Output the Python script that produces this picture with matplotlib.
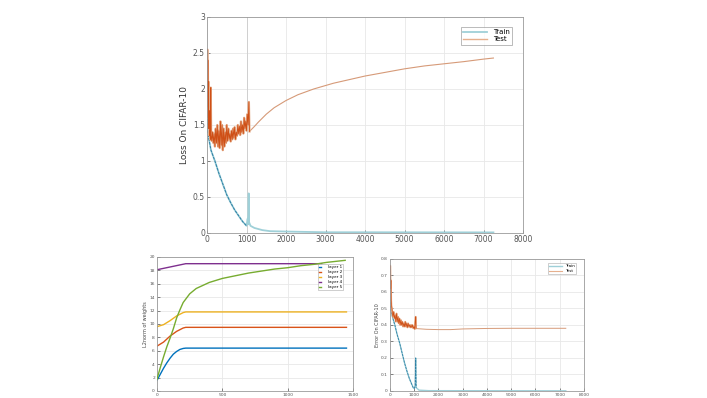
import matplotlib
matplotlib.use("Agg")
import matplotlib.pyplot as plt

# ---------------- data: top plot (loss) ----------------
test_loss_x = [0, 8, 15, 22, 30, 38, 45, 55, 65, 75, 85, 95, 105, 120, 140, 160, 180, 200,
               220, 240, 260, 280, 300, 320, 340, 360, 380, 400, 420, 440, 460, 480, 500,
               520, 540, 560, 580, 600, 620, 640, 660, 680, 700, 720, 740, 760, 780, 800,
               820, 840, 860, 880, 900, 920, 940, 960, 980, 1000, 1020, 1040, 1060, 1075,
               1200, 1300, 1500, 1700, 2000, 2300, 2700, 3200, 3600, 4000, 4500, 5000,
               5500, 6000, 6500, 7000, 7250]
test_loss_y = [1.75, 2.55, 1.9, 2.4, 1.6, 2.1, 1.45, 1.7, 1.35, 1.42, 1.3, 2.02, 1.35, 1.28,
               1.4, 1.25, 1.38, 1.2, 1.45, 1.25, 1.5, 1.2, 1.42, 1.18, 1.55, 1.22, 1.5, 1.15,
               1.45, 1.2, 1.4, 1.25, 1.5, 1.28, 1.45, 1.3, 1.38, 1.27, 1.42, 1.3, 1.45, 1.32,
               1.47, 1.3, 1.4, 1.35, 1.5, 1.38, 1.48, 1.36, 1.55, 1.4, 1.5, 1.38, 1.6, 1.45,
               1.55, 1.42, 1.65, 1.5, 1.82, 1.41,
               1.48, 1.54, 1.65, 1.74, 1.84, 1.92, 2.0, 2.08, 2.13, 2.18, 2.23, 2.28,
               2.32, 2.35, 2.38, 2.415, 2.43]
train_loss_x = [0, 20, 50, 100, 200, 300, 400, 500, 600, 700, 800, 900, 950, 1000, 1030,
                1040, 1055, 1065, 1100, 1200, 1400, 1600, 2000, 2500, 3000, 4000, 7250]
train_loss_y = [1.75, 1.4, 1.3, 1.15, 1.0, 0.83, 0.68, 0.53, 0.42, 0.32, 0.24, 0.16, 0.13,
                0.1, 0.2, 0.12, 0.55, 0.15, 0.1, 0.07, 0.04, 0.025, 0.02, 0.015, 0.01,
                0.01, 0.008]
N_TEST_NOISY = 62
N_TRAIN_EARLY = 14

# ---------------- data: bottom-left (L2 norm of weights) ----------------
layer_labels = ["layer 1", "layer 2", "layer 3", "layer 4", "layer 5"]
l1_x = [0, 25, 50, 75, 100, 125, 150, 175, 200, 220, 1450]
l1_y = [1.6, 2.5, 3.4, 4.2, 4.9, 5.5, 5.9, 6.2, 6.35, 6.4, 6.4]
l2_x = [0, 50, 100, 150, 200, 220, 1450]
l2_y = [6.7, 7.3, 8.2, 8.9, 9.4, 9.5, 9.5]
l3_x = [0, 50, 100, 150, 200, 220, 1450]
l3_y = [9.6, 9.9, 10.5, 11.2, 11.7, 11.8, 11.8]
l4_x = [0, 220, 1260]
l4_y = [18.1, 19.0, 19.0]
l5_x = [0, 25, 50, 75, 100, 125, 150, 175, 200, 250, 300, 400, 500, 600, 700, 800, 900,
        1000, 1100, 1200, 1300, 1440]
l5_y = [1.8, 3.5, 5.1, 6.6, 7.9, 9.3, 10.9, 12.1, 13.2, 14.5, 15.3, 16.2, 16.8, 17.2,
        17.6, 17.9, 18.2, 18.4, 18.7, 18.9, 19.2, 19.5]

# ---------------- data: bottom-right (error) ----------------
train_err_x = [0, 20, 50, 100, 200, 300, 400, 500, 600, 700, 800, 900, 960, 1000, 1040,
               1060, 1080, 1200, 1600, 7250]
train_err_y = [0.62, 0.52, 0.48, 0.45, 0.4, 0.34, 0.29, 0.23, 0.17, 0.12, 0.075, 0.04,
               0.02, 0.015, 0.03, 0.2, 0.02, 0.005, 0.002, 0.001]
test_err_x = [0, 10, 20, 30, 40, 50, 60, 80, 100, 120, 150, 180, 210, 240, 270, 300, 330,
              360, 390, 420, 450, 480, 510, 540, 570, 600, 630, 660, 690, 720, 750, 780,
              810, 840, 870, 900, 930, 960, 990, 1020, 1040, 1060, 1075,
              1100, 1500, 2000, 2500, 3000, 4000, 5000, 6000, 7250]
test_err_y = [0.62, 0.76, 0.7, 0.62, 0.67, 0.55, 0.52, 0.5, 0.47, 0.45, 0.48, 0.44, 0.46,
              0.42, 0.47, 0.42, 0.45, 0.41, 0.44, 0.4, 0.43, 0.4, 0.42, 0.39, 0.41, 0.39,
              0.42, 0.39, 0.41, 0.385, 0.41, 0.39, 0.4, 0.385, 0.4, 0.385, 0.4, 0.38, 0.39,
              0.375, 0.42, 0.45, 0.38,
              0.378, 0.374, 0.372, 0.372, 0.376, 0.379, 0.38, 0.38, 0.38]
N_TEST_ERR_NOISY = 43
N_TRAIN_ERR_EARLY = 17

# ---------------- style ----------------
TRAIN_LIGHT = "#9fd0d8"
TRAIN_DARK = "#2f7fa6"
TEST_LIGHT = "#e6b08e"
TEST_SMOOTH = "#d69a78"
TEST_DARK = "#cf4f16"
LAYER_COLORS = ["#0072bd", "#d95319", "#edb120", "#7e2f8e", "#77ac30"]
GRID = "#e8e8e8"
SPINE = "#9a9a9a"

fig = plt.figure(figsize=(7.07, 3.98), dpi=100)


def style_axes(ax, fs):
    ax.grid(True, color=GRID, linewidth=0.6)
    ax.set_axisbelow(True)
    for s in ax.spines.values():
        s.set_color(SPINE)
        s.set_linewidth(0.6)
    ax.tick_params(direction="in", length=2, width=0.5, colors="#555555",
                   labelsize=fs, pad=1.5)


# ---- top: loss ----
ax1 = fig.add_axes([0.2928, 0.4146, 0.447, 0.5427])
style_axes(ax1, 5.5)
ax1.axvline(1010, color="#d0d0d0", linewidth=0.7, zorder=1)
ax1.plot(train_loss_x, train_loss_y, color=TRAIN_LIGHT, linewidth=1.3, label="Train")
ax1.plot(train_loss_x[:N_TRAIN_EARLY], train_loss_y[:N_TRAIN_EARLY], color=TRAIN_DARK,
         linewidth=0.7, linestyle=(0, (3, 1)))
ax1.plot(test_loss_x, test_loss_y, color=TEST_SMOOTH, linewidth=0.8)
ax1.plot(test_loss_x[:N_TEST_NOISY], test_loss_y[:N_TEST_NOISY], color=TEST_LIGHT,
         linewidth=1.6)
ax1.plot(test_loss_x[:N_TEST_NOISY], test_loss_y[:N_TEST_NOISY], color=TEST_DARK,
         linewidth=0.6)
ax1.plot([], [], color=TEST_LIGHT, linewidth=1.0, label="Test")
ax1.set_xlim(0, 8000)
ax1.set_ylim(0, 3)
ax1.set_xticks(range(0, 8001, 1000))
ax1.set_yticks([0, 0.5, 1, 1.5, 2, 2.5, 3])
ax1.set_yticklabels(["0", "0.5", "1", "1.5", "2", "2.5", "3"])
ax1.set_ylabel("Loss On CIFAR-10", fontsize=6.5, color="#333333", labelpad=3)
leg1 = ax1.legend(loc="upper right", fontsize=5, frameon=True, fancybox=False,
                  handlelength=3.5, borderpad=0.3, labelspacing=0.2,
                  bbox_to_anchor=(0.975, 0.97))
leg1.get_frame().set_edgecolor("#888888")
leg1.get_frame().set_linewidth(0.5)

# ---- bottom-left: L2 norm ----
ax2 = fig.add_axes([0.2221, 0.0176, 0.2772, 0.3367])
style_axes(ax2, 3.2)
layers = [(l1_x, l1_y), (l2_x, l2_y), (l3_x, l3_y), (l4_x, l4_y), (l5_x, l5_y)]
handles = []
for (lx, ly), c, lab in zip(layers, LAYER_COLORS, layer_labels):
    h, = ax2.plot(lx, ly, color=c, linewidth=1.0, label=lab)
    handles.append(h)
ax2.set_xlim(0, 1500)
ax2.set_ylim(0, 20)
ax2.set_xticks([0, 500, 1000, 1500])
ax2.set_yticks(range(0, 21, 2))
ax2.set_ylabel("L2norm of weights", fontsize=3.5, color="#444444", labelpad=1)
leg2 = ax2.legend(handles=handles, loc="upper right", fontsize=3, frameon=True,
                  fancybox=False, handlelength=0.6, borderpad=0.3, labelspacing=0.25,
                  handletextpad=1.5, bbox_to_anchor=(0.96, 0.965))
leg2.get_frame().set_edgecolor("#aaaaaa")
leg2.get_frame().set_linewidth(0.5)
leg2.set_zorder(2)
handles[4].set_zorder(3)

# ---- bottom-right: error ----
ax3 = fig.add_axes([0.5516, 0.0176, 0.2744, 0.3317])
style_axes(ax3, 3.2)
ax3.plot(train_err_x, train_err_y, color=TRAIN_LIGHT, linewidth=1.0, label="Train")
ax3.plot(train_err_x[:N_TRAIN_ERR_EARLY], train_err_y[:N_TRAIN_ERR_EARLY],
         color=TRAIN_DARK, linewidth=0.6, linestyle=(0, (3, 1)))
ax3.plot(test_err_x, test_err_y, color=TEST_SMOOTH, linewidth=0.7)
ax3.plot(test_err_x[:N_TEST_ERR_NOISY], test_err_y[:N_TEST_ERR_NOISY], color=TEST_LIGHT,
         linewidth=1.3)
ax3.plot(test_err_x[:N_TEST_ERR_NOISY], test_err_y[:N_TEST_ERR_NOISY], color=TEST_DARK,
         linewidth=0.5)
ax3.plot([], [], color=TEST_LIGHT, linewidth=0.8, label="Test")
ax3.set_xlim(0, 8000)
ax3.set_ylim(0, 0.8)
ax3.set_xticks(range(0, 8001, 1000))
ax3.set_yticks([0, 0.1, 0.2, 0.3, 0.4, 0.5, 0.6, 0.7, 0.8])
ax3.set_yticklabels(["0", "0.1", "0.2", "0.3", "0.4", "0.5", "0.6", "0.7", "0.8"])
ax3.set_ylabel("Error On CIFAR-10", fontsize=3.5, color="#444444", labelpad=1)
leg3 = ax3.legend(loc="upper right", fontsize=3, frameon=True, fancybox=False,
                  handlelength=3, borderpad=0.3, labelspacing=0.2,
                  bbox_to_anchor=(0.97, 0.985))
leg3.get_frame().set_edgecolor("#aaaaaa")
leg3.get_frame().set_linewidth(0.5)

fig.savefig("out.png", dpi=100)
